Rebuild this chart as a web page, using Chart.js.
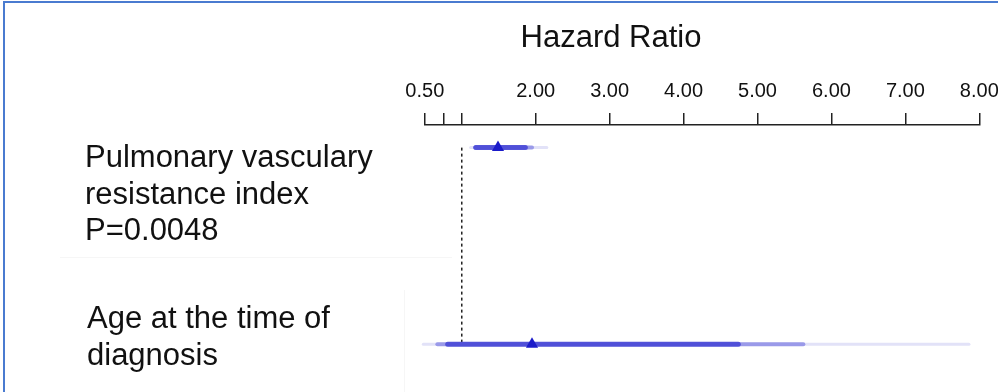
<!DOCTYPE html>
<html>
<head>
<meta charset="utf-8">
<title>Hazard Ratio</title>
<script src="https://cdn.jsdelivr.net/npm/chart.js@4.4.1/dist/chart.umd.min.js"></script>
<style>
  html, body { margin: 0; padding: 0; background: #fff; overflow: hidden; }
  #wrap { position: absolute; left: 0; top: 0; width: 1010px; height: 392px; }
  #frame { position: absolute; left: 3px; top: 1px; width: 1100px; height: 450px;
           border-left: 2px solid #4a7bd0; border-top: 2px solid #4a7bd0; pointer-events: none; }
  .rule { position: absolute; background: #f6f6f6; }
</style>
</head>
<body>
<div id="wrap"><canvas id="forestChart"></canvas></div>
<div class="rule" style="left:60px; top:257px; width:392px; height:1px;"></div>
<div class="rule" style="left:404px; top:290px; width:1px; height:102px;"></div>
<div id="frame"></div>
<script>
const chartTitle = 'Hazard Ratio';
const rowLabels = [
    ['Pulmonary vasculary', 'resistance index', 'P=0.0048'],
    ['Age at the time of', 'diagnosis']
];
const hazardRatio = [1.49, 1.95];
const outerLow = [1.12, 0.48];
const outerHigh = [2.15, 7.86];
const midLow = [1.18, 0.67];
const midHigh = [1.95, 5.62];
const innerLow = [1.19, 0.81];
const innerHigh = [1.86, 4.74];
const tickValues = [0.5, 0.75, 1, 2, 3, 4, 5, 6, 7, 8];
const tickLabels = ['0.50', '', '', '2.00', '3.00', '4.00', '5.00', '6.00', '7.00', '8.00'];
const referenceLine = 1;

const labelFont = '31px "Liberation Sans", Arial, sans-serif';

// one line dataset per row for a band layer
function bandDatasets(lows, highs, color, width, order) {
    return lows.map((lo, i) => ({
        type: 'line',
        data: [{ x: lo, y: i }, { x: highs[i], y: i }],
        borderColor: color,
        borderWidth: width,
        borderCapStyle: 'round',
        pointRadius: 0,
        fill: false,
        clip: false,
        order: order
    }));
}

const datasets = [
    {
        type: 'line',
        data: hazardRatio.map((v, i) => ({ x: v, y: i })),
        showLine: false,
        pointStyle: 'triangle',
        pointRadius: 7,
        pointBackgroundColor: '#1b1bc9',
        pointBorderColor: '#1b1bc9',
        pointBorderWidth: 0,
        order: 0
    },
    ...bandDatasets(innerLow, innerHigh, 'rgba(72, 72, 214, 0.9)', 5, 1),
    ...bandDatasets(midLow, midHigh, 'rgba(150, 150, 232, 0.95)', 4, 2),
    ...bandDatasets(outerLow, outerHigh, 'rgba(226, 226, 248, 1)', 3, 3),
    {
        type: 'line',
        data: [{ x: referenceLine, y: 0 }, { x: referenceLine, y: rowLabels.length - 1 }],
        borderColor: '#222',
        borderWidth: 1.5,
        borderDash: [3, 3],
        pointRadius: 0,
        fill: false,
        order: 4
    }
];

const rowLabelPlugin = {
    id: 'rowLabels',
    afterDraw(chart, args, opts) {
        const ctx = chart.ctx;
        const yScale = chart.scales.y;
        ctx.save();
        ctx.fillStyle = '#111';
        ctx.font = labelFont;
        ctx.textBaseline = 'alphabetic';
        ctx.textAlign = 'center';
        ctx.fillText(chartTitle, opts.titleX, opts.titleY);
        ctx.textAlign = 'left';
        rowLabels.forEach((lines, i) => {
            const base = yScale.getPixelForValue(i) + opts.offsets[i];
            lines.forEach((line, j) => {
                ctx.fillText(line, opts.left[i], base + j * opts.lineGap);
            });
        });
        ctx.restore();
    }
};

new Chart(document.getElementById('forestChart'), {
    type: 'line',
    data: { datasets: datasets },
    plugins: [rowLabelPlugin],
    options: {
        responsive: true,
        maintainAspectRatio: false,
        animation: false,
        events: [],
        layout: { autoPadding: false, padding: { left: 424.8, right: 30.7, top: 69, bottom: 0 } },
        plugins: {
            legend: { display: false },
            tooltip: { enabled: false },
            title: { display: false },
            rowLabels: { titleX: 611, titleY: 47, left: [85, 87], offsets: [19.5, -16], lineGap: 36.5 }
        },
        scales: {
            x: {
                type: 'linear',
                position: 'top',
                min: 0.5,
                max: 8,
                afterBuildTicks: (axis) => {
                    axis.ticks = tickValues.map(v => ({ value: v }));
                },
                ticks: {
                    autoSkip: false,
                    maxRotation: 0,
                    padding: 10,
                    color: '#111',
                    font: { family: '"Liberation Sans", Arial, sans-serif', size: 20 },
                    callback: (value, index) => tickLabels[index]
                },
                grid: {
                    drawOnChartArea: false,
                    drawTicks: true,
                    tickLength: 12,
                    color: '#222',
                    lineWidth: 1.5
                },
                border: { display: true, color: '#222', width: 1.5 }
            },
            y: {
                type: 'linear',
                display: false,
                reverse: true,
                min: -0.115,
                max: 1.243
            }
        }
    }
});
</script>
</body>
</html>
